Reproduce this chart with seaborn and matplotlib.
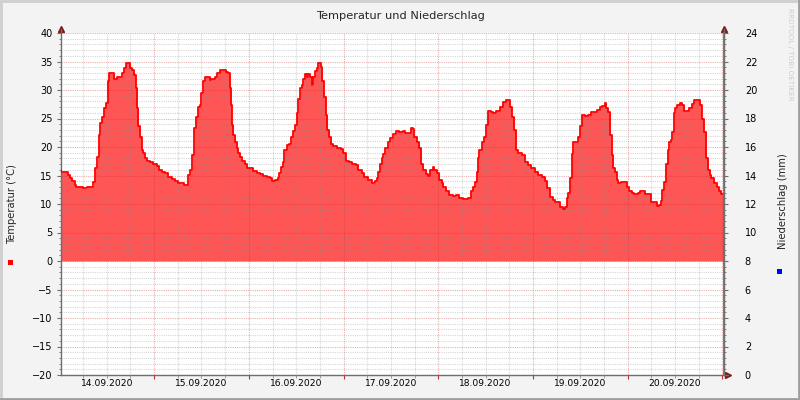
import matplotlib
matplotlib.use('Agg')
import matplotlib.pyplot as plt
import seaborn as sns
from matplotlib.ticker import MultipleLocator, NullFormatter
from matplotlib.patches import Rectangle
from matplotlib.lines import Line2D

sns.set_theme(style='white')
plt.rcParams['font.family'] = ['DejaVu Sans']

# hours since 14.09.2020 00:00
hours = [0.4, 0.5, 2.1, 2.7, 3.2, 3.9, 4.3, 6.0, 7.1, 8.6, 9.0, 9.6, 10.0, 10.3, 10.7, 11.3, 11.7, 12.2, 12.5,
         13.9, 14.5, 14.9, 15.9, 16.3, 16.8, 17.9, 18.4, 18.9, 19.3, 19.7, 20.0, 20.4, 20.8, 21.2, 21.7, 22.1,
         22.9, 23.8, 24.6, 25.2, 26.0, 26.7, 27.5, 28.4, 29.2, 30.1, 30.9, 31.6, 32.2, 32.6, 33.2, 33.6, 34.1,
         34.5, 35.0, 35.6, 36.0, 36.4, 36.8, 38.1, 38.5, 39.4, 40.0, 40.6, 42.3, 42.8, 43.2, 43.5, 43.7, 44.1,
         44.5, 44.9, 45.3, 45.8, 46.2, 46.9, 47.5, 48.3, 49.1, 50.0, 50.8, 51.7, 52.5, 53.4, 53.8, 54.6, 55.3,
         55.7, 56.2, 56.6, 57.0, 57.6, 58.2, 58.7, 59.1, 59.7, 60.1, 60.5, 61.0, 61.4, 61.8, 62.2, 62.8, 63.1,
         63.5, 63.9, 64.3, 64.8, 65.2, 65.6, 66.2, 66.6, 67.0, 67.5, 67.9, 68.4, 68.8, 69.4, 70.3, 71.4, 71.9,
         72.5, 73.4, 74.2, 75.1, 75.7, 76.6, 77.3, 78.1, 79.1, 80.0, 80.4, 80.8, 81.2, 81.7, 82.1, 82.5, 83.2,
         83.8, 84.6, 85.3, 86.1, 87.0, 87.6, 89.0, 89.5, 89.8, 90.5, 91.2, 91.6, 92.2, 92.9, 93.5, 93.9, 94.6,
         95.0, 95.6, 96.2, 96.9, 97.3, 97.9, 98.8, 99.8, 100.6, 101.3, 102.3, 103.6, 104.2, 104.7, 105.3, 105.7,
         106.0, 106.4, 107.0, 107.6, 108.1, 108.5, 109.3, 109.9, 110.6, 111.6, 112.3, 113.1, 114.1, 114.6,
         115.2, 115.7, 116.2, 117.1, 117.9, 118.8, 119.6, 120.5, 121.3, 122.2, 123.0, 123.6, 124.3, 125.0,
         125.5, 126.4, 126.8, 127.6, 128.2, 128.5, 128.9, 129.3, 129.8, 130.2, 130.8, 131.3, 131.9, 132.3,
         133.1, 134.0, 134.8, 135.7, 136.3, 136.9, 137.5, 138.2, 138.6, 139.0, 139.5, 139.9, 140.3, 140.7,
         141.2, 141.6, 142.4, 143.7, 144.3, 145.0, 145.6, 146.5, 147.1, 148.5, 149.8, 150.7, 151.3, 151.9,
         152.4, 152.7, 153.2, 153.6, 154.1, 154.5, 154.9, 155.3, 155.7, 156.1, 156.6, 157.2, 157.8, 158.3,
         159.5, 160.2, 160.8, 162.3, 162.7, 163.3, 163.9, 164.4, 164.8, 165.2, 165.9, 166.5, 167.1, 167.7, 168.4]

temps = [16.0, 15.6, 15.1, 14.5, 14.0, 13.3, 13.0, 12.75, 13.0, 13.9, 16.3, 18.2, 22.1, 24.2, 25.3, 26.9, 27.7, 31.5, 32.9,
         32.0, 32.3, 32.2, 32.9, 33.8, 34.7, 33.8, 33.5, 32.6, 30.3, 26.8, 23.6, 21.8, 19.5, 18.9, 18.0, 17.5,
         17.4, 17.1, 16.7, 16.0, 15.7, 15.4, 14.8, 14.3, 14.0, 13.7, 13.6, 13.3, 13.4, 15.1, 16.0, 18.6, 23.3,
         25.3, 27.1, 27.4, 29.4, 31.5, 32.3, 31.8, 32.0, 32.3, 32.9, 33.5, 33.2, 32.9, 30.3, 27.4, 23.9, 22.1,
         20.8, 19.8, 18.9, 18.3, 17.5, 17.1, 16.4, 16.3, 15.8, 15.4, 15.2, 14.9, 14.7, 14.5, 14.0, 14.2, 14.5,
         15.4, 16.5, 17.4, 19.5, 20.4, 20.5, 21.8, 22.8, 23.9, 25.9, 28.5, 30.3, 30.9, 32.0, 32.8, 32.3, 32.8,
         32.3, 30.8, 32.3, 33.3, 33.9, 34.7, 34.1, 31.5, 28.8, 25.6, 23.0, 21.8, 20.6, 20.1, 19.8, 19.6, 18.9,
         17.5, 17.3, 17.0, 16.8, 16.0, 15.4, 14.8, 14.2, 13.6, 14.0, 14.6, 15.7, 17.1, 18.0, 18.7, 19.8, 20.8,
         21.6, 22.2, 22.8, 22.6, 22.8, 22.4, 23.4, 23.2, 21.8, 20.8, 19.8, 17.1, 16.0, 15.2, 14.9, 16.0, 16.5,
         16.0, 15.4, 14.2, 13.6, 12.9, 12.2, 11.6, 11.4, 11.6, 11.1, 10.9, 11.1, 12.2, 13.0, 13.9, 15.7,
         18.0, 19.5, 20.9, 21.8, 23.9, 26.3, 26.2, 25.9, 26.3, 27.1, 27.9, 28.2, 27.1, 25.3,
         23.0, 19.5, 18.9, 18.6, 17.4, 16.8, 16.4, 15.7, 15.1, 14.8, 14.0, 12.8, 11.3, 10.7,
         10.3, 10.4, 9.5, 9.2, 9.5, 11.1, 12.0, 14.5, 18.7, 20.9, 20.8, 21.8, 23.6, 25.6,
         25.5, 25.7, 26.1, 26.2, 26.5, 27.1, 27.2, 27.7, 26.8, 26.2, 22.1, 18.6, 16.3, 15.7,
         14.2, 13.7, 13.8, 13.0, 12.3, 12.0, 11.7, 12.0, 12.2, 11.7, 10.4, 10.3, 9.7, 9.9,
         10.5, 12.5, 13.9, 17.1, 19.5, 20.8, 21.2, 22.6, 25.9, 26.8, 27.4, 27.8, 27.4, 26.3,
         26.8, 27.5, 28.2, 27.4, 25.0, 22.7, 18.0, 16.0, 15.1, 14.5, 13.6, 12.9, 12.3, 11.7, 11.7]

day_label_hours = [12, 36, 60, 84, 108, 132, 156]
day_labels = ['14.09.2020', '15.09.2020', '16.09.2020', '17.09.2020',
              '18.09.2020', '19.09.2020', '20.09.2020']

W, H = 800, 400
fig = plt.figure(figsize=(8, 4), dpi=100, facecolor='#F3F3F3')
L, R, T, B = 61, 724, 33, 375
ax = fig.add_axes([L / W, 1 - B / H, (R - L) / W, (B - T) / H])
ax.set_facecolor('white')

ax.fill_between(hours, temps, 0, step='post', color='#FF5555', lw=0, zorder=1)
sns.lineplot(x=hours, y=temps, ax=ax, drawstyle='steps-post', color='#FF0000', lw=1.3,
             estimator=None, sort=False, zorder=3, legend=False)

ax.set_xlim(0.4, 168.4)
ax.set_ylim(-20, 40)

ax.xaxis.set_major_locator(MultipleLocator(24))
ax.xaxis.set_minor_locator(MultipleLocator(6))
ax.xaxis.set_major_formatter(NullFormatter())
ax.yaxis.set_major_locator(MultipleLocator(5))
ax.yaxis.set_minor_locator(MultipleLocator(1))

dot = (0, (1, 1))
ax.set_axisbelow(False)
ax.grid(which='minor', color='#8C8C8C', alpha=0.35, lw=0.8, ls=dot)
ax.grid(which='major', color='#C03030', alpha=0.38, lw=0.8, ls=dot)

ax.set_ylabel('')
ax.set_xlabel('')
ax.spines['top'].set_visible(False)
for s in ['left', 'bottom', 'right']:
    ax.spines[s].set_color('#6E6E6E')
    ax.spines[s].set_linewidth(1.0)

ax.tick_params(axis='y', which='major', left=True, length=3, width=0.8, color='#6E6E6E',
               labelsize=7, pad=3, labelcolor='black')
ax.tick_params(axis='y', which='minor', left=True, length=1.5, width=0.6, color='#6E6E6E')
ax.tick_params(axis='x', which='major', bottom=True, length=3, width=0.8, color='#C03030')
ax.tick_params(axis='x', which='minor', bottom=True, length=2, width=0.6, color='#8C8C8C')

for h, lab in zip(day_label_hours, day_labels):
    ax.text(h, -0.012, lab, transform=ax.get_xaxis_transform(), ha='center', va='top',
            fontsize=6.6, color='black')

ax2 = ax.twinx()
ax2.set_ylim(0, 24)
ax2.yaxis.set_major_locator(MultipleLocator(2))
ax2.yaxis.set_minor_locator(MultipleLocator(0.4))
for s in ['top', 'left', 'bottom']:
    ax2.spines[s].set_visible(False)
ax2.spines['right'].set_color('#6E6E6E')
ax2.tick_params(axis='y', which='major', right=True, length=3, width=0.8, color='#6E6E6E',
                labelsize=7, pad=12, labelcolor='black')
ax2.tick_params(axis='y', which='minor', right=True, length=1.5, width=0.6, color='#6E6E6E')
ax2.grid(False)

# arrows
arrow_c = '#7A1A1A'
ax.plot([0], [1 + 4 / (B - T)], marker='^', ms=4, color=arrow_c, transform=ax.transAxes, clip_on=False)
ax.plot([1], [1 + 4 / (B - T)], marker='^', ms=4, color=arrow_c, transform=ax.transAxes, clip_on=False)
ax.plot([1 + 4 / (R - L)], [0], marker='>', ms=4, color=arrow_c, transform=ax.transAxes, clip_on=False)
ax.plot([0, 0], [1, 1 + 4 / (B - T)], color='#6E6E6E', lw=1, transform=ax.transAxes, clip_on=False)
ax.plot([1, 1], [1, 1 + 4 / (B - T)], color='#6E6E6E', lw=1, transform=ax.transAxes, clip_on=False)
ax.plot([1, 1 + 4 / (R - L)], [0, 0], color='#6E6E6E', lw=1, transform=ax.transAxes, clip_on=False)

fig.text(0.5, 1 - 16 / H, 'Temperatur und Niederschlag', ha='center', va='center', fontsize=8.2)
fig.text(12 / W, 1 - 204 / H, 'Temperatur (°C)', rotation=90, ha='center', va='center', fontsize=7.2)
fig.text(783 / W, 1 - 201 / H, 'Niederschlag (mm)', rotation=90, ha='center', va='center', fontsize=7.2)
fig.text(790 / W, 1 - 54 / H, 'RRDTOOL / TOBI OETIKER', rotation=270, ha='center', va='center',
         fontsize=5.2, color='#CCCCCC')

fig.patches.append(Rectangle((8 / W, 1 - 265 / H), 5 / W, 5 / H, transform=fig.transFigure,
                             color='#FF0000', lw=0))
fig.patches.append(Rectangle((777 / W, 1 - 274 / H), 5 / W, 5 / H, transform=fig.transFigure,
                             color='#0000FF', lw=0))

# frame
fig.add_artist(Line2D([0, 1], [1 - 1 / H, 1 - 1 / H], color='#CFCFCF', lw=2, transform=fig.transFigure))
fig.add_artist(Line2D([1 / W, 1 / W], [0, 1], color='#CFCFCF', lw=2, transform=fig.transFigure))
fig.add_artist(Line2D([0, 1], [1 / H, 1 / H], color='#9E9E9E', lw=2, transform=fig.transFigure))
fig.add_artist(Line2D([1 - 1 / W, 1 - 1 / W], [0, 1], color='#9E9E9E', lw=2, transform=fig.transFigure))

fig.savefig('out.png', dpi=100, facecolor=fig.get_facecolor())
